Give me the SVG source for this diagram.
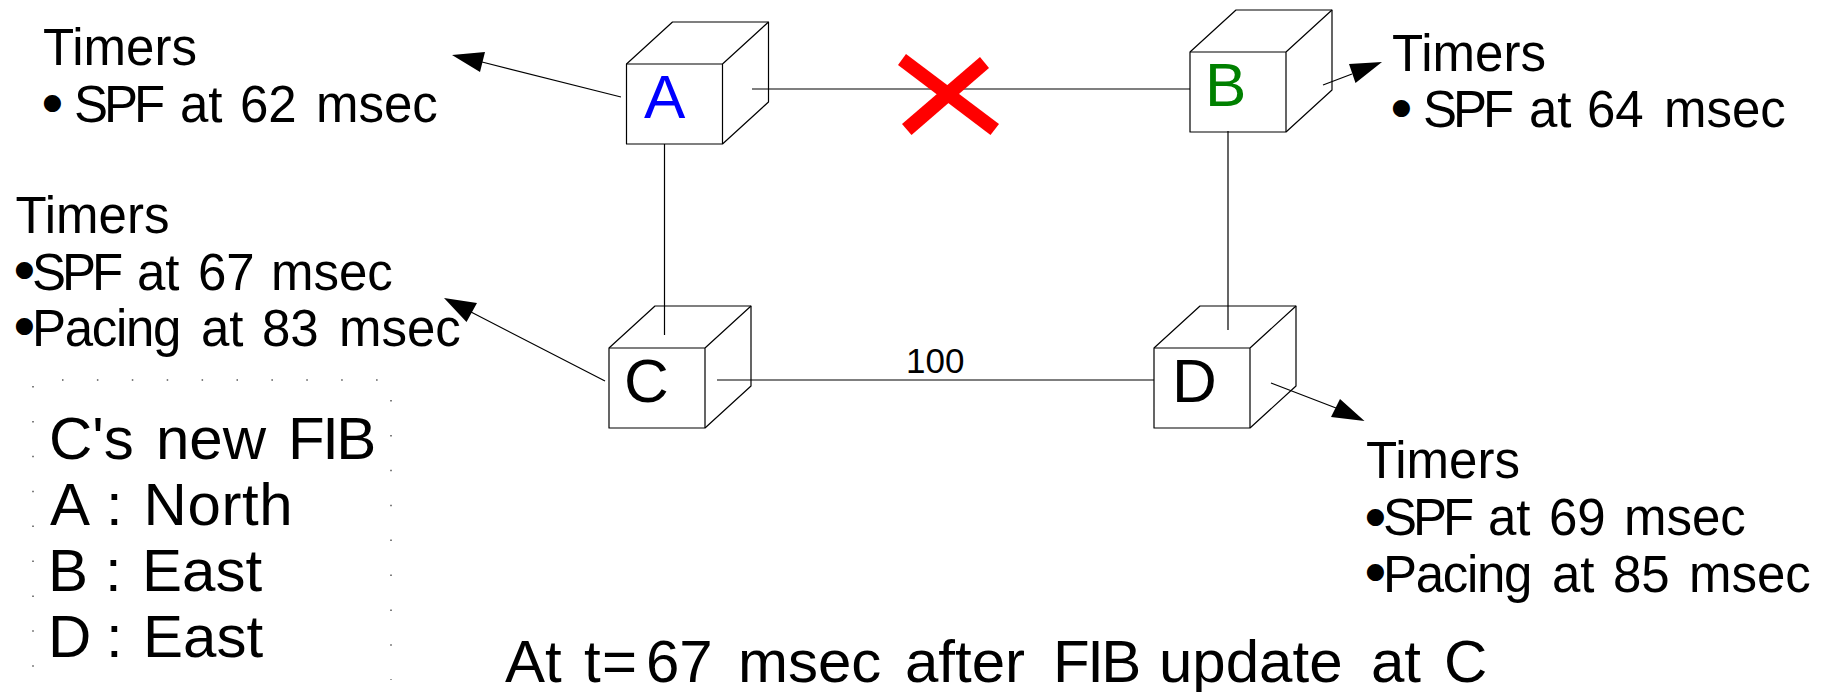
<svg xmlns="http://www.w3.org/2000/svg" width="1835" height="692" viewBox="0 0 1835 692">
<style>
text{font-family:"Liberation Sans",Arial,sans-serif;fill:#000}
.t{font-size:51px}
.f{font-size:60px}
.n{font-size:62px}
.b{font-size:48px;stroke:#000;stroke-width:4px}
.s{letter-spacing:-4px}
.p{letter-spacing:-1.300px}
.c{fill:#fff;stroke:#000;stroke-width:1.2;stroke-linejoin:round}
.l{fill:none;stroke:#000;stroke-width:1.2}
.d{fill:none;stroke:#555;stroke-width:1.5;stroke-dasharray:1.5 33.4}
</style>
<defs>
<g id="cube">
<path class="c" d="M0 42L46 0H142V80L96 122H0Z"/>
<path class="l" d="M0 42H96V122M96 42L142 0"/>
</g>
</defs>
<g id="node-a"><use href="#cube" transform="translate(626.500 22)"/><text class="n" x="644" y="118" style="fill:#00f">A</text></g>
<g id="node-b"><use href="#cube" transform="translate(1190 10)"/><text class="n" x="1205" y="106" style="fill:#008000">B</text></g>
<g id="node-c"><use href="#cube" transform="translate(609 306)"/><text class="n" x="624" y="402">C</text></g>
<g id="node-d"><use href="#cube" transform="translate(1154 306)"/><text class="n" x="1172" y="402">D</text></g>
<g id="connectors">
<path class="l" d="M752 89H1190M664.500 144V335M1228 131V330M717 380H1154"/>
<path class="l" d="M621 97L482 62M605 381L471 312M1323 85L1352 74M1271 383L1336 408"/>
<path d="M452 55L485 52L480 72ZM444 298L477 303L466.500 322ZM1382 62L1349 64L1355.500 83ZM1364.500 421L1340 399L1331 417Z" fill="#000"/>
<path d="M906 54L898 65L990.500 135L999 124Z" fill="#f00"/>
<path d="M980 57L989 68L911.500 135L902 124Z" fill="#f00"/>
<text x="906" y="373" style="font-size:35px">100</text>
</g>
<g id="timers-a"><text class="t" x="43" y="65">Timers</text><text class="t"><tspan class="b" x="44" y="119">•</tspan><tspan class="s" x="74" y="122">SPF</tspan><tspan x="180" y="122">at</tspan><tspan x="240" y="122">62</tspan><tspan x="316" y="122">msec</tspan></text></g>
<g id="timers-b"><text class="t" x="1392" y="71">Timers</text><text class="t"><tspan class="b" x="1393" y="124">•</tspan><tspan class="s" x="1423" y="127">SPF</tspan><tspan x="1529" y="127">at</tspan><tspan x="1587" y="127">64</tspan><tspan x="1664" y="127">msec</tspan></text></g>
<g id="timers-c"><text class="t" x="15.500" y="233">Timers</text><text class="t"><tspan class="b" x="16" y="286">•</tspan><tspan class="s" x="32" y="290">SPF</tspan><tspan x="137" y="290">at</tspan><tspan x="198" y="290">67</tspan><tspan x="271" y="290">msec</tspan></text><text class="t"><tspan class="b" x="16" y="342">•</tspan><tspan class="p" x="32" y="346">Pacing</tspan><tspan x="201" y="346">at</tspan><tspan x="262" y="346">83</tspan><tspan x="339" y="346">msec</tspan></text></g>
<g id="timers-d"><text class="t" x="1366" y="478">Timers</text><text class="t"><tspan class="b" x="1367" y="533">•</tspan><tspan class="s" x="1383" y="535">SPF</tspan><tspan x="1488" y="535">at</tspan><tspan x="1549" y="535">69</tspan><tspan x="1624" y="535">msec</tspan></text><text class="t"><tspan class="b" x="1367" y="588">•</tspan><tspan class="p" x="1383" y="592">Pacing</tspan><tspan x="1552" y="592">at</tspan><tspan x="1613" y="592">85</tspan><tspan x="1689" y="592">msec</tspan></text></g>
<g id="fib">
<path class="d" d="M62 380H378M33 386V668M391 400V680"/>
<text class="f" y="459"><tspan x="49">C's</tspan><tspan x="156">new</tspan><tspan x="288" style="letter-spacing:-2.500px">FIB</tspan></text>
<text class="f" y="525"><tspan x="50">A</tspan><tspan x="106">:</tspan><tspan x="143.500" style="letter-spacing:.6px">North</tspan></text>
<text class="f" y="591"><tspan x="48">B</tspan><tspan x="105">:</tspan><tspan x="142">East</tspan></text>
<text class="f" y="657"><tspan x="48">D</tspan><tspan x="106">:</tspan><tspan x="143">East</tspan></text>
</g>
<text id="caption" y="682" style="font-size:60px"><tspan x="505">At</tspan><tspan x="584">t</tspan><tspan x="602">=</tspan><tspan x="646">67</tspan><tspan x="738">msec</tspan><tspan x="905">after</tspan><tspan x="1053" style="letter-spacing:-2.500px">FIB</tspan><tspan x="1159">update</tspan><tspan x="1371">at</tspan><tspan x="1444">C</tspan></text>
</svg>
